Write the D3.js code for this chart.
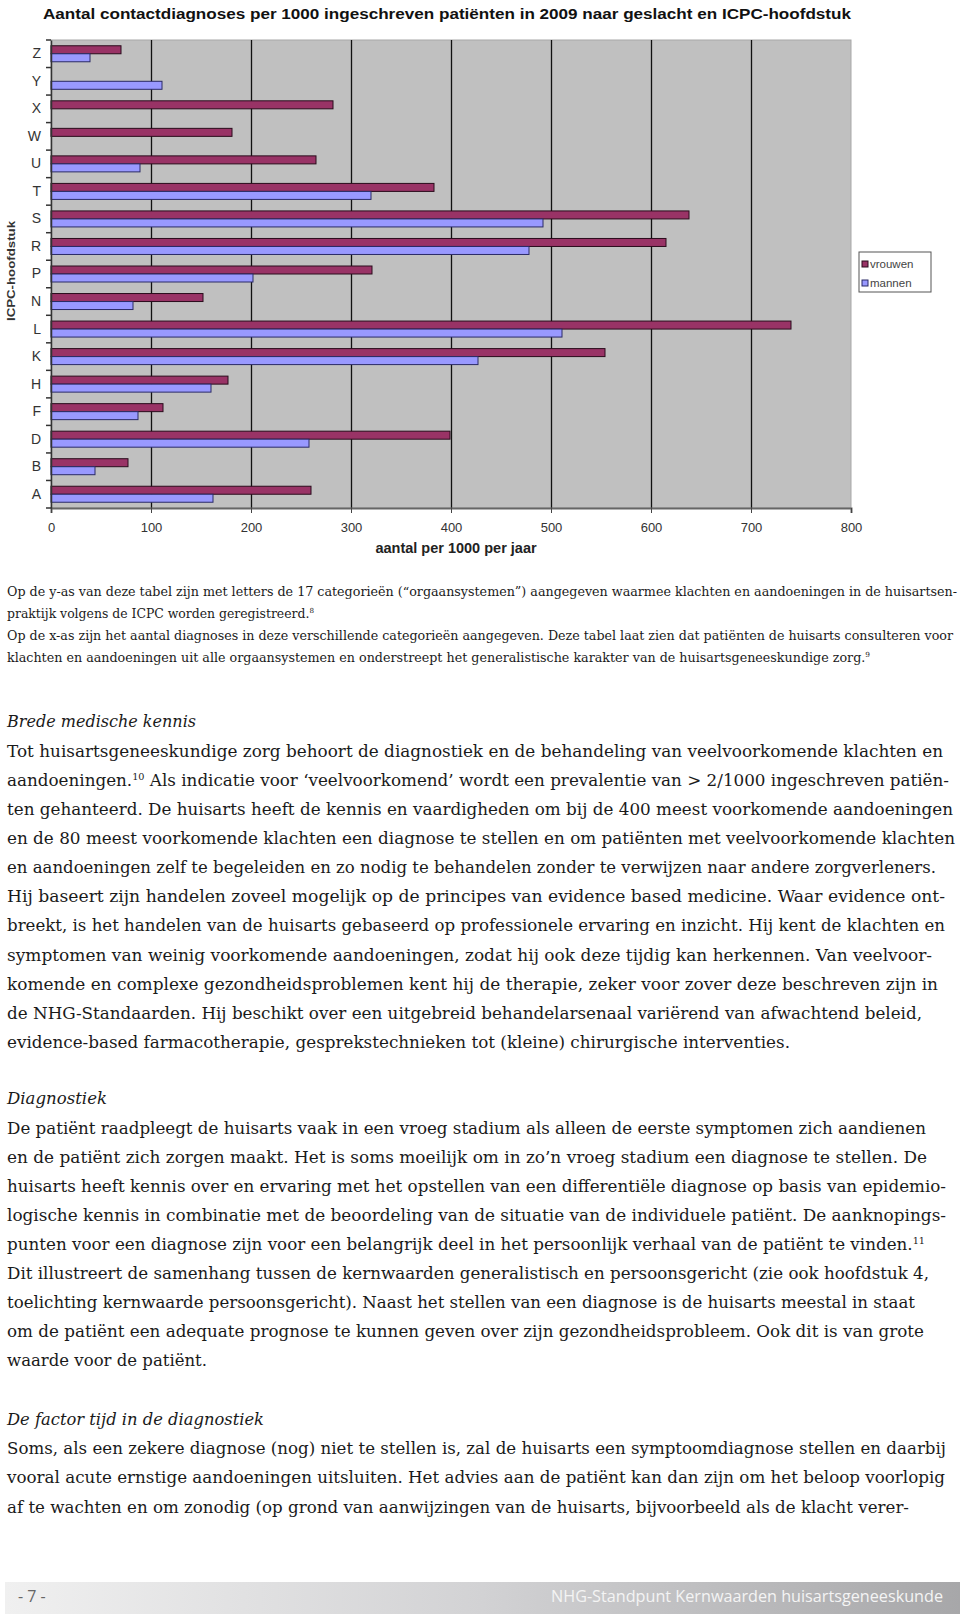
<!DOCTYPE html>
<html><head><meta charset="utf-8">
<script src="https://cdn.jsdelivr.net/npm/d3@7"></script>
<style>html,body{margin:0;padding:0;background:#fff;} svg{display:block}</style>
</head><body>
<svg id="page" width="960" height="1614"></svg>
<script>
// ---------- data ----------
const categories = ["Z","Y","X","W","U","T","S","R","P","N","L","K","H","F","D","B","A"];
const vrouwen = [70,0,282,181,265,383,638,615,321,152,740,554,177,112,399,77,260];
const mannen  = [39,111,0,0,89,320,492,478,202,82,511,427,160,87,258,44,162];
const seriesNames = ["vrouwen","mannen"];
const xTicks = [0,100,200,300,400,500,600,700,800];
const chartTitle = "Aantal contactdiagnoses per 1000 ingeschreven patiënten in 2009 naar geslacht en ICPC-hoofdstuk";
const xTitle = "aantal per 1000 per jaar";
const yTitle = "ICPC-hoofdstuk";

const captionLines = [
  "Op de y-as van deze tabel zijn met letters de 17 categorieën (“orgaansystemen”) aangegeven waarmee klachten en aandoeningen in de huisartsen-",
  "praktijk volgens de ICPC worden geregistreerd.^8",
  "Op de x-as zijn het aantal diagnoses in deze verschillende categorieën aangegeven. Deze tabel laat zien dat patiënten de huisarts consulteren voor",
  "klachten en aandoeningen uit alle orgaansystemen en  onderstreept het generalistische karakter van de huisartsgeneeskundige zorg.^9"
];
const heading1 = "Brede medische kennis";
const section1 = [
  "Tot huisartsgeneeskundige zorg behoort de diagnostiek en de behandeling van veelvoorkomende klachten en",
  "aandoeningen.^10 Als indicatie voor ‘veelvoorkomend’ wordt een prevalentie van > 2/1000 ingeschreven patiën-",
  "ten gehanteerd. De huisarts heeft de kennis en vaardigheden om bij de 400 meest voorkomende aandoeningen",
  "en de 80 meest voorkomende klachten een diagnose te stellen en om patiënten met veelvoorkomende klachten",
  "en aandoeningen zelf te begeleiden en zo nodig te behandelen zonder te verwijzen naar andere zorgverleners.",
  "Hij baseert zijn handelen zoveel mogelijk op de principes van evidence based medicine. Waar evidence ont-",
  "breekt, is het handelen van de huisarts gebaseerd op professionele ervaring en inzicht. Hij kent de klachten en",
  "symptomen van  weinig voorkomende aandoeningen, zodat hij ook deze tijdig kan herkennen. Van veelvoor-",
  "komende en complexe gezondheidsproblemen kent hij de therapie, zeker  voor zover deze beschreven zijn in",
  "de NHG-Standaarden. Hij beschikt over een uitgebreid behandelarsenaal variërend van afwachtend beleid,",
  "evidence-based farmacotherapie, gesprekstechnieken tot (kleine) chirurgische interventies."
];
const heading2 = "Diagnostiek";
const section2 = [
  "De patiënt raadpleegt de huisarts vaak in een vroeg stadium als alleen de eerste symptomen zich aandienen",
  "en de patiënt zich zorgen maakt. Het is soms moeilijk om in zo’n vroeg stadium een diagnose te stellen. De",
  "huisarts heeft kennis over en ervaring met het opstellen van een differentiële diagnose op basis van epidemio-",
  "logische kennis in combinatie met de beoordeling van de situatie van de individuele patiënt. De aanknopings-",
  "punten voor een diagnose zijn voor een belangrijk deel in het persoonlijk verhaal van de patiënt te vinden.^11",
  "Dit illustreert de samenhang tussen de kernwaarden generalistisch en persoonsgericht (zie ook hoofdstuk 4,",
  "toelichting kernwaarde persoonsgericht). Naast het stellen van een diagnose is de huisarts meestal in staat",
  "om de patiënt een adequate prognose te kunnen geven over zijn gezondheidsprobleem. Ook dit is van grote",
  "waarde voor de patiënt."
];
const heading3 = "De factor tijd in de diagnostiek";
const section3 = [
  "Soms, als een zekere diagnose (nog) niet te stellen is, zal de huisarts een symptoomdiagnose stellen en daarbij",
  "vooral acute ernstige aandoeningen uitsluiten. Het advies aan de patiënt kan dan zijn om het beloop voorlopig",
  "af te wachten en om zonodig (op grond van aanwijzingen van de huisarts, bijvoorbeeld als de klacht verer-"
];
const footerPage = "- 7 -";
const footerText = "NHG-Standpunt Kernwaarden huisartsgeneeskunde";

// ---------- layout (widths of each text line, measured from the page) ----------
const captionW = [950, 307, 946, 863];
const sec1W = [936, 942, 946, 948, 929, 938, 938, 925, 931, 915, 783];
const sec2W = [919, 920, 939, 939, 918, 922, 908, 917, 200];
const sec3W = [939, 938, 902];

const svg = d3.select("#page");

// ---------- chart ----------
const P = {left: 51, right: 851, top: 40, bottom: 508};
const x = d3.scaleLinear().domain([0, 800]).range([P.left, P.right]);
const y = d3.scaleBand().domain(categories).range([P.top, P.bottom]);
const sub = d3.scaleBand().domain(seriesNames).range([0, 16]);
const color = d3.scaleOrdinal().domain(seriesNames).range(["#993366", "#9999ff"]);
const strokeC = d3.scaleOrdinal().domain(seriesNames).range(["#2a0c1c", "#2a2a66"]);

svg.append("text").attr("x", 43).attr("y", 19)
  .attr("font-family", "Liberation Sans, Arial, sans-serif").attr("font-weight", "bold")
  .attr("font-size", 14).attr("fill", "#111")
  .attr("textLength", 808).attr("lengthAdjust", "spacingAndGlyphs")
  .text(chartTitle);

svg.append("rect").attr("x", P.left).attr("y", P.top)
  .attr("width", P.right - P.left).attr("height", P.bottom - P.top)
  .attr("fill", "#c0c0c0").attr("stroke", "#a8a8a8").attr("stroke-width", 1);

// gridlines
const grid = svg.append("g").attr("transform", `translate(0,${P.bottom})`)
  .call(d3.axisBottom(x).tickValues(xTicks.filter(v => v > 0 && v < 800))
    .tickSize(-(P.bottom - P.top)).tickFormat(""));
grid.select(".domain").remove();
grid.selectAll("line").attr("stroke", "#111").attr("stroke-width", 1.3);

// bars
const rows = categories.map((c, i) => ({c, vals: [{s: "vrouwen", v: vrouwen[i]}, {s: "mannen", v: mannen[i]}]}));
const g = svg.append("g");
rows.forEach(r => {
  r.vals.filter(d => d.v > 0).forEach(d => {
    g.append("rect")
      .attr("x", x(0))
      .attr("y", y(r.c) + y.bandwidth() / 2 - 8 + sub(d.s))
      .attr("width", x(d.v) - x(0))
      .attr("height", sub.bandwidth())
      .attr("fill", color(d.s))
      .attr("stroke", strokeC(d.s)).attr("stroke-width", 1);
  });
});

// x axis
const xa = svg.append("g").attr("transform", `translate(0,${P.bottom})`)
  .call(d3.axisBottom(x).tickValues(xTicks).tickSize(5).tickPadding(10));
xa.select(".domain").attr("stroke", "#666").attr("stroke-width", 2);
xa.selectAll("line").attr("stroke", "#444");
xa.selectAll("text").attr("font-family", "Liberation Sans Narrow, Liberation Sans, Arial, sans-serif")
  .attr("font-size", 13).attr("fill", "#333");

// y axis
const ya = svg.append("g").attr("transform", `translate(${P.left},0)`)
  .call(d3.axisLeft(y).tickSize(0).tickPadding(10));
ya.select(".domain").attr("stroke", "#333").attr("stroke-width", 1.5);
ya.selectAll("text").attr("font-family", "Liberation Sans, Arial, sans-serif")
  .attr("font-size", 14).attr("fill", "#333");
// category boundary ticks
svg.append("g").selectAll("line")
  .data(categories.map(c => y(c)).concat([P.bottom]))
  .join("line")
  .attr("x1", P.left - 5).attr("x2", P.left)
  .attr("y1", d => d).attr("y2", d => d)
  .attr("stroke", "#333").attr("stroke-width", 1.5);

// axis titles
svg.append("text").attr("x", 456).attr("y", 553).attr("text-anchor", "middle")
  .attr("font-family", "Liberation Sans, Arial, sans-serif").attr("font-weight", "bold")
  .attr("font-size", 14.5).attr("fill", "#222").text(xTitle);
svg.append("text").attr("transform", "translate(15,271) rotate(-90)").attr("text-anchor", "middle")
  .attr("font-family", "Liberation Sans, Arial, sans-serif").attr("font-weight", "bold")
  .attr("font-size", 11).attr("fill", "#333")
  .attr("textLength", 100).attr("lengthAdjust", "spacingAndGlyphs").text(yTitle);

// legend
const lg = svg.append("g").attr("transform", "translate(859,252)");
lg.append("rect").attr("width", 72).attr("height", 40).attr("fill", "#fff").attr("stroke", "#555");
seriesNames.forEach((s, i) => {
  lg.append("rect").attr("x", 3).attr("y", 9 + i * 19).attr("width", 6).attr("height", 6)
    .attr("fill", color(s)).attr("stroke", strokeC(s));
  lg.append("text").attr("x", 11).attr("y", 16 + i * 19)
    .attr("font-family", "Liberation Sans, Arial, sans-serif").attr("font-size", 11.5)
    .attr("fill", "#444").text(s);
});

// ---------- text ----------
function addLine(str, xPos, yPos, w, opts) {
  const t = svg.append("text").attr("x", xPos).attr("y", yPos)
    .attr("font-family", opts.family).attr("font-size", opts.size)
    .attr("fill", opts.fill || "#1a1a1a");
  if (opts.style) t.attr("font-style", opts.style);
  if (w) t.attr("textLength", w).attr("lengthAdjust", "spacingAndGlyphs");
  const parts = str.split(/\^(\d+)/);
  const rise = Math.round(opts.size * 0.38);
  parts.forEach((p, i) => {
    if (p === "") return;
    if (i % 2 === 1) {
      t.append("tspan").attr("dy", -rise).attr("font-size", opts.size * 0.58).text(p);
    } else {
      const ts = t.append("tspan").text(p);
      if (i > 0) ts.attr("dy", rise);
    }
  });
  return t;
}

const capFont = {family: "DejaVu Serif, serif", size: 12};
captionLines.forEach((l, i) => addLine(l, 7, 596 + i * 22, captionW[i], capFont));

const bodyFont = {family: "DejaVu Serif, serif", size: 16.5};
const headFont = {family: "DejaVu Serif, serif", size: 16.5, style: "italic"};

addLine(heading1, 7, 727, 189, headFont);
section1.forEach((l, i) => addLine(l, 7, 756.5 + i * 29.15, sec1W[i], bodyFont));

addLine(heading2, 7, 1104, 100, headFont);
section2.forEach((l, i) => addLine(l, 7, 1134 + i * 29.06, sec2W[i], bodyFont));

addLine(heading3, 7, 1425, 257, headFont);
section3.forEach((l, i) => addLine(l, 7, 1454 + i * 29.3, sec3W[i], bodyFont));

// ---------- footer ----------
const defs = svg.append("defs");
const grad = defs.append("linearGradient").attr("id", "fg").attr("x1", "0").attr("x2", "1");
grad.append("stop").attr("offset", "0").attr("stop-color", "#f0f0f0");
grad.append("stop").attr("offset", "0.5").attr("stop-color", "#d2d2d4");
grad.append("stop").attr("offset", "1").attr("stop-color", "#a7a7a9");
svg.append("rect").attr("x", 5).attr("y", 1582).attr("width", 955).attr("height", 32).attr("fill", "url(#fg)");
svg.append("text").attr("x", 18).attr("y", 1602)
  .attr("font-family", "Open Sans, sans-serif").attr("font-size", 16).attr("fill", "#666")
  .text(footerPage);
svg.append("text").attr("x", 551).attr("y", 1602)
  .attr("font-family", "Open Sans, sans-serif").attr("font-size", 16).attr("fill", "#f4f4f4")
  .attr("textLength", 392).attr("lengthAdjust", "spacingAndGlyphs")
  .text(footerText);
</script>
</body></html>
